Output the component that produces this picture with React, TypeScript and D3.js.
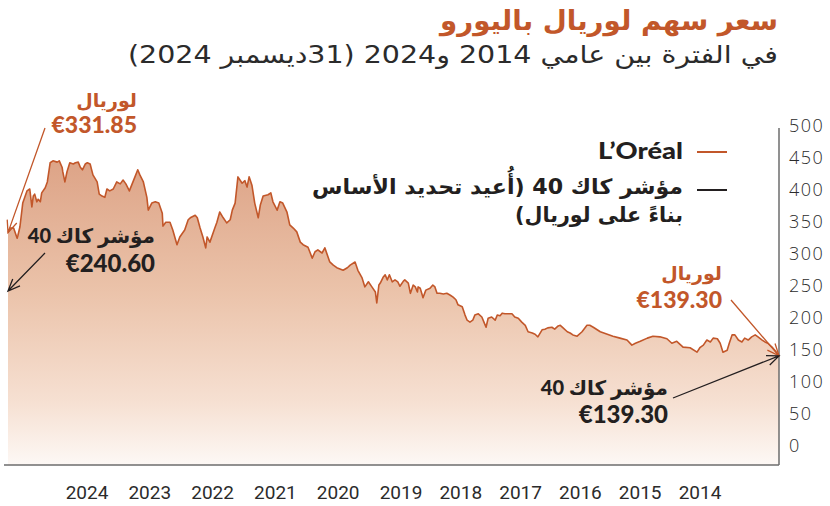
import React from 'react';
import * as d3 from 'd3';

// L'Oréal share price (EUR), decimal-year dates
const lorealYears = [
  2014.00, 2014.06, 2014.10, 2014.16, 2014.20, 2014.24, 2014.30, 2014.34, 2014.39, 2014.44,
  2014.49, 2014.53, 2014.58, 2014.63, 2014.67, 2014.71, 2014.74, 2014.80, 2014.84, 2014.88,
  2014.94, 2014.98, 2015.03, 2015.08, 2015.13, 2015.17, 2015.27, 2015.37, 2015.46, 2015.53,
  2015.60, 2015.70, 2015.80, 2015.88, 2015.98, 2016.05, 2016.10, 2016.17, 2016.27, 2016.37,
  2016.45, 2016.55, 2016.65, 2016.70, 2016.74, 2016.81, 2016.88, 2016.94, 2016.98, 2017.02,
  2017.08, 2017.12, 2017.15, 2017.20, 2017.24, 2017.30, 2017.34, 2017.38, 2017.44, 2017.48,
  2017.52, 2017.58, 2017.62, 2017.67, 2017.72, 2017.77, 2017.81, 2017.87, 2017.91, 2017.95,
  2017.98, 2018.02, 2018.05, 2018.10, 2018.15, 2018.18, 2018.21, 2018.24, 2018.29, 2018.34,
  2018.37, 2018.41, 2018.45, 2018.48, 2018.52, 2018.58, 2018.61, 2018.65, 2018.69, 2018.74,
  2018.79, 2018.84, 2018.88, 2018.91, 2018.94, 2018.98, 2019.04, 2019.08, 2019.09, 2019.12,
  2019.15, 2019.16, 2019.19, 2019.22, 2019.26, 2019.29, 2019.34, 2019.36, 2019.41, 2019.44,
  2019.48, 2019.52, 2019.56, 2019.59, 2019.62, 2019.65, 2019.69, 2019.71, 2019.74, 2019.76,
  2019.81, 2019.86, 2019.91, 2019.95, 2020.01, 2020.05, 2020.12, 2020.16, 2020.22, 2020.31,
  2020.36, 2020.41, 2020.48, 2020.52, 2020.58, 2020.62, 2020.66, 2020.72, 2020.79, 2020.83,
  2020.88, 2020.93, 2020.98, 2021.02, 2021.08, 2021.12, 2021.16, 2021.22, 2021.25, 2021.29,
  2021.36, 2021.40, 2021.43, 2021.48, 2021.52, 2021.56, 2021.59, 2021.62, 2021.66, 2021.72,
  2021.76, 2021.80, 2021.83, 2021.88, 2021.93, 2021.98, 2022.02, 2022.05, 2022.12, 2022.16,
  2022.18, 2022.22, 2022.26, 2022.30, 2022.33, 2022.40, 2022.43, 2022.48, 2022.55, 2022.59,
  2022.65, 2022.69, 2022.75, 2022.79, 2022.80, 2022.85, 2022.90, 2022.95, 2023.00, 2023.02,
  2023.07, 2023.12, 2023.15, 2023.19, 2023.23, 2023.27, 2023.32, 2023.36, 2023.40, 2023.45,
  2023.50, 2023.55, 2023.59, 2023.62, 2023.66, 2023.70, 2023.73, 2023.79, 2023.83, 2023.87,
  2023.90, 2023.94, 2023.97, 2024.00, 2024.04, 2024.07, 2024.12, 2024.16, 2024.19, 2024.22,
  2024.23, 2024.27, 2024.30, 2024.36, 2024.40, 2024.44, 2024.47, 2024.52, 2024.54, 2024.57,
  2024.59, 2024.62, 2024.64, 2024.66, 2024.69, 2024.73, 2024.79, 2024.83, 2024.86, 2024.87,
  2024.92, 2024.97, 2025.00,
];
const lorealValues = [
  139.3, 148, 153, 159, 161, 164, 169, 172, 169, 164,
  167, 161, 164, 172, 172, 159, 148, 145, 159, 166,
  167, 161, 164, 156, 152, 145, 152, 153, 162, 159,
  166, 169, 170, 167, 162, 159, 156, 164, 167, 170,
  173, 177, 184, 187, 187, 177, 170, 172, 175, 177,
  183, 187, 186, 181, 184, 183, 181, 180, 169, 173,
  175, 177, 187, 192, 198, 200, 205, 205, 205, 206,
  202, 203, 195, 200, 198, 184, 192, 200, 205, 203,
  195, 192, 195, 203, 216, 219, 227, 231, 234, 237,
  236, 237, 237, 247, 250, 245, 242, 230, 234, 245,
  247, 239, 247, 250, 237, 253, 258, 256, 248, 255,
  258, 255, 266, 258, 266, 262, 253, 250, 222, 239,
  247, 255, 247, 261, 273, 286, 281, 277, 273, 277,
  281, 286, 308, 300, 305, 302, 292, 309, 313, 317,
  333, 339, 344, 364, 378, 380, 367, 380, 394, 391,
  389, 375, 355, 378, 406, 419, 403, 413, 409, 419,
  378, 367, 352, 347, 355, 364, 348, 339, 317, 325,
  308, 325, 339, 355, 359, 355, 352, 336, 325, 313,
  336, 348, 348, 342, 362, 378, 380, 378, 367, 387,
  411, 422, 430, 419, 408, 397, 408, 414, 408, 411,
  400, 397, 400, 387, 389, 392, 411, 422, 439, 441,
  439, 430, 434, 442, 441, 439, 441, 427, 411, 427,
  434, 444, 442, 444, 441, 411, 402, 394, 380, 384,
  380, 392, 389, 372, 400, 397, 378, 341, 327, 323,
  339, 339, 331.85,
];

const yTicks = [0, 50, 100, 150, 200, 250, 300, 350, 400, 450, 500];
const yearLabels = [2024, 2023, 2022, 2021, 2020, 2019, 2018, 2017, 2016, 2015, 2014];

const lorealStart = 139.3;
const lorealEnd = 331.85;
const cacStart = 139.3;
const cacEnd = 240.6;

const title = 'سعر سهم لوريال باليورو';
const subtitle = 'في الفترة بين عامي 2014 و2024 (31ديسمبر 2024)';
const legendLoreal = 'L’Oréal';
const legendCac1 = 'مؤشر كاك 40 (أُعيد تحديد الأساس';
const legendCac2 = 'بناءً على لوريال)';
const lorealName = 'لوريال';
const cacName = 'مؤشر كاك 40';

const ORANGE = '#c2572a';
const DARK = '#231f20';
const AR = "'DejaVu Sans', sans-serif";
const LAT = "Lato, 'DejaVu Sans', sans-serif";

function toDate(t: number): Date {
  const yr = Math.floor(t);
  const s = Date.UTC(yr, 0, 1);
  const e = Date.UTC(yr + 1, 0, 1);
  return new Date(s + (t - yr) * (e - s));
}

function arrowPath(x1: number, y1: number, x2: number, y2: number, len = 13, ang = 0.4) {
  const a = Math.atan2(y2 - y1, x2 - x1);
  const p1 = [x2 - len * Math.cos(a - ang), y2 - len * Math.sin(a - ang)];
  const p2 = [x2 - len * Math.cos(a + ang), y2 - len * Math.sin(a + ang)];
  return `M${x1},${y1}L${x2},${y2}M${p1[0]},${p1[1]}L${x2},${y2}L${p2[0]},${p2[1]}`;
}

// right-aligned RTL text helper props
const rtl = { direction: 'rtl' as const, textAnchor: 'start' as const };

export default function App() {
  const W = 830;
  const H = 506;
  const left = 8;
  const right = 779;
  const plotTop = 128;
  const plotBottom = 465;

  const x = d3.scaleUtc().domain([toDate(2014), toDate(2025)]).range([right, left]);
  const y = d3.scaleLinear().domain([0, 500]).range([445, 125]);
  const yearX = d3.scaleLinear().domain([2014, 2019, 2024]).range([700, 401, 87]);

  const data = lorealYears.map((t, i) => ({ d: toDate(t), v: lorealValues[i] }));
  const line = d3.line<{ d: Date; v: number }>().x((p) => x(p.d)).y((p) => y(p.v));
  const area = d3
    .area<{ d: Date; v: number }>()
    .x((p) => x(p.d))
    .y0(plotBottom)
    .y1((p) => y(p.v));

  const endX = x(toDate(2025));
  const startX = x(toDate(2014));

  return (
    <svg
      width={W}
      height={H}
      style={{ position: 'absolute', left: 0, top: 0, background: '#fff' }}
    >
      <defs>
        <linearGradient id="fillGrad" gradientUnits="userSpaceOnUse" x1="0" y1={150} x2="0" y2={plotBottom}>
          <stop offset="0" stopColor="#dca184" />
          <stop offset="0.45" stopColor="#ebc3aa" />
          <stop offset="0.8" stopColor="#f6e0d2" />
          <stop offset="1" stopColor="#fdf8f5" />
        </linearGradient>
      </defs>

      {/* Title */}
      <text x={778} y={30} {...rtl} fontFamily={AR} fontWeight={700} fontSize={27} textLength={338} lengthAdjust="spacingAndGlyphs" fill={ORANGE}>
        {title}
      </text>
      <text x={778} y={63} {...rtl} fontFamily={AR} fontSize={24} textLength={650} lengthAdjust="spacingAndGlyphs" fill="#2b2b2b">
        {subtitle}
      </text>

      {/* Area + line */}
      <path d={area(data) || ''} fill="url(#fillGrad)" />
      <path d={line(data) || ''} fill="none" stroke={ORANGE} strokeWidth={1.6} strokeLinejoin="round" />

      {/* Axes */}
      <line x1={right} x2={right} y1={plotTop} y2={plotBottom} stroke="#6d6d6d" strokeWidth={1.5} />
      <line x1={4} x2={right} y1={plotBottom} y2={plotBottom} stroke="#6d6d6d" strokeWidth={1.5} />

      {yTicks.map((t) => (
        <text key={t} x={789} y={y(t)} dominantBaseline="central" fontFamily="'Open Sans', sans-serif" fontWeight={300} fontSize={18} letterSpacing={1.5} fill="#2b2b2b">
          {t}
        </text>
      ))}
      {yearLabels.map((yr) => (
        <text key={yr} x={yearX(yr)} y={492} textAnchor="middle" dominantBaseline="central" fontFamily="Roboto, sans-serif" fontSize={19} fill="#2b2b2b">
          {yr}
        </text>
      ))}

      {/* Legend */}
      <text x={683} y={150} textAnchor="end" dominantBaseline="central" fontFamily={LAT} fontWeight={900} fontSize={23} textLength={85} lengthAdjust="spacingAndGlyphs" fill={DARK}>
        {legendLoreal}
      </text>
      <line x1={697} x2={727} y1={152} y2={152} stroke={ORANGE} strokeWidth={2} />
      <text x={683} y={187} {...rtl} dominantBaseline="central" fontFamily={AR} fontWeight={700} fontSize={21} textLength={371} lengthAdjust="spacingAndGlyphs" fill={DARK}>
        {legendCac1}
      </text>
      <text x={683} y={215} {...rtl} dominantBaseline="central" fontFamily={AR} fontWeight={700} fontSize={21} textLength={168} lengthAdjust="spacingAndGlyphs" fill={DARK}>
        {legendCac2}
      </text>
      <line x1={697} x2={727} y1={190} y2={190} stroke={DARK} strokeWidth={2} />

      {/* Left annotations */}
      <text x={137} y={100} {...rtl} dominantBaseline="central" fontFamily={AR} fontWeight={700} fontSize={19} fill={ORANGE}>
        {lorealName}
      </text>
      <text x={137} y={124} textAnchor="end" dominantBaseline="central" fontFamily={LAT} fontWeight={900} fontSize={23} fill={ORANGE}>
        {`€${lorealEnd.toFixed(2)}`}
      </text>
      <path d={arrowPath(45, 128, endX, y(lorealEnd))} fill="none" stroke={ORANGE} strokeWidth={1.3} />

      <text x={155} y={235} {...rtl} dominantBaseline="central" fontFamily={LAT} fontWeight={900} fontSize={20} fill={DARK}>
        {cacName}
      </text>
      <text x={155} y={262} textAnchor="end" dominantBaseline="central" fontFamily={LAT} fontWeight={900} fontSize={24} fill={DARK}>
        {`€${cacEnd.toFixed(2)}`}
      </text>
      <path d={arrowPath(45, 253, endX, y(cacEnd))} fill="none" stroke={DARK} strokeWidth={1.3} />

      {/* Right annotations */}
      <text x={722} y={273} {...rtl} dominantBaseline="central" fontFamily={AR} fontWeight={700} fontSize={19} fill={ORANGE}>
        {lorealName}
      </text>
      <text x={722} y={299} textAnchor="end" dominantBaseline="central" fontFamily={LAT} fontWeight={900} fontSize={23} fill={ORANGE}>
        {`€${lorealStart.toFixed(2)}`}
      </text>
      <path d={arrowPath(731, 300, startX, y(lorealStart))} fill="none" stroke={ORANGE} strokeWidth={1.3} />

      <text x={668} y={387} {...rtl} dominantBaseline="central" fontFamily={LAT} fontWeight={900} fontSize={20} fill={DARK}>
        {cacName}
      </text>
      <text x={668} y={413} textAnchor="end" dominantBaseline="central" fontFamily={LAT} fontWeight={900} fontSize={24} fill={DARK}>
        {`€${cacStart.toFixed(2)}`}
      </text>
      <path d={arrowPath(673, 398, startX, y(cacStart))} fill="none" stroke={DARK} strokeWidth={1.3} />
    </svg>
  );
}
